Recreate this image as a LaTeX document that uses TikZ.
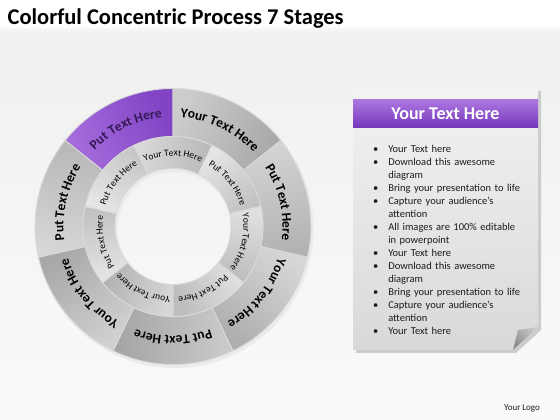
\documentclass[tikz,border=0pt]{standalone}
\usepackage{fontspec}
\setmainfont{Carlito}
\usetikzlibrary{decorations.text}

\definecolor{headtop}{RGB}{172,118,224}
\definecolor{headbot}{RGB}{116,54,186}
\definecolor{purpseglight}{RGB}{166,108,220}
\definecolor{purpsegdark}{RGB}{128,68,196}
\definecolor{ink}{RGB}{28,28,28}
\definecolor{purpink}{RGB}{52,24,84}

\newcommand{\bigfont}{\fontsize{13.5}{15}\selectfont\bfseries}
\newcommand{\smallfont}{\fontsize{9.5}{11}\selectfont}

\tikzset{
  seg/.style={draw=white!85!black, line width=0.9pt},
  listfont/.style={font=\fontsize{10.5}{13}\selectfont, text=ink},
}

\begin{document}
\begin{tikzpicture}[x=1pt,y=1pt,semithick]
  \useasboundingbox (0,0) rectangle (560,420);
  \fill[white] (0,0) rectangle (560,420);
  \shade[top color=black!6, bottom color=black!2] (0,0) rectangle (560,387);
  \shade[top color=white, bottom color=black!6] (0,387) rectangle (560,395);

  \node[anchor=base west, font=\fontsize{22.5}{26}\selectfont\bfseries] (title) at (4,395) {Colorful Concentric Process 7 Stages};

  \coordinate (c) at (173,193.5);
  \begin{scope}[shift={(c)}]
    \fill[black!8, even odd rule] (1.5,-2.5) circle (139) (1.5,-2.5) circle (57);
    % outer ring
    \shade[seg, left color=purpseglight, right color=purpsegdark, shading angle=115.71]
      (90:138) arc[start angle=90, end angle=141.43, radius=138] -- (141.43:90)
      arc[start angle=141.43, end angle=90, radius=90] -- cycle;
    \foreach \a/\t/\lc/\rc [evaluate=\a as \aa using \a-25.714, evaluate=\a as \ab using \a+25.714] in
      {64.29/Your Text Here/20/34, 12.86/Put Text Here/17/30, -38.57/Your Text Here/16/32,
       -90/Put Text Here/20/36, -141.43/Your Text Here/18/34, 167.14/Put Text Here/16/28}
    {
      \shade[seg, left color=black!\lc, right color=black!\rc, shading angle=\a]
        (\aa:138) arc[start angle=\aa, end angle=\ab, radius=138] -- (\ab:90)
        arc[start angle=\ab, end angle=\aa, radius=90] -- cycle;
      \path[decorate, decoration={text along path, text align=center,
        text/.expanded={|\noexpand\bigfont|\t}}]
        (\ab:109.5) arc[start angle=\ab, end angle=\aa, radius=109.5];
    }
    \path[decorate, decoration={text along path, text align=center,
      text={|\bigfont\color{purpink}|Put Text Here}}]
      (141.43:109.5) arc[start angle=141.43, end angle=90, radius=109.5];
    % inner ring
    \foreach \a/\t/\lc/\rc [evaluate=\a as \aa using \a-25.714, evaluate=\a as \ab using \a+25.714] in
      {90/Your Text Here/14/28, 38.57/Put Text Here/10/24, -12.86/Your Text Here/12/26,
       -64.29/Put Text Here/12/26, -115.71/Your Text Here/16/30, -167.14/Put Text Here/10/24,
       141.43/Put Text Here/10/22}
    {
      \shade[seg, left color=black!\lc, right color=black!\rc, shading angle=\a]
        (\aa:90) arc[start angle=\aa, end angle=\ab, radius=90] -- (\ab:58)
        arc[start angle=\ab, end angle=\aa, radius=58] -- cycle;
      \path[decorate, decoration={text along path, text align=center,
        text/.expanded={|\noexpand\smallfont|\t}}]
        (\ab:70.5) arc[start angle=\ab, end angle=\aa, radius=70.5];
    }
  \end{scope}

  % text panel
  \fill[black!20] (356,329) -- (541,329) -- (541,90) -- (516,67) -- (356,67) -- cycle;
  \shade[top color=black!5, bottom color=black!15]
    (353,332) -- (538,332) -- (538,93) -- (513,70) -- (353,70) -- cycle;
  \shade[left color=black!45, right color=black!22, shading angle=135]
    (518,90) -- (538,93) -- (513,70) -- cycle;
  \shade[top color=headtop, bottom color=headbot] (353,320) rectangle (538,292);
  \node[font=\fontsize{18}{20}\selectfont\bfseries, text=white] (head) at (445.5,306) {Your Text Here};
  \node[listfont, anchor=north west, text width=165pt, inner sep=0pt] (list) at (372,281) {%
    \begin{list}{\textbullet}{\setlength{\leftmargin}{16pt}\setlength{\labelwidth}{6pt}%
      \setlength{\labelsep}{10pt}\setlength{\itemsep}{0pt}\setlength{\parsep}{0pt}%
      \setlength{\topsep}{0pt}\setlength{\partopsep}{0pt}}
    \item Your Text here
    \item Download this awesome\\ diagram
    \item Bring your presentation to life
    \item Capture your audience’s\\ attention
    \item All images are 100\% editable\\ in powerpoint
    \item Your Text here
    \item Download this awesome\\ diagram
    \item Bring your presentation to life
    \item Capture your audience’s\\ attention
    \item Your Text here
    \end{list}};

  \node[font=\fontsize{9}{11}\selectfont, text=ink] (logo) at (522,12) {Your Logo};
\end{tikzpicture}
\end{document}
